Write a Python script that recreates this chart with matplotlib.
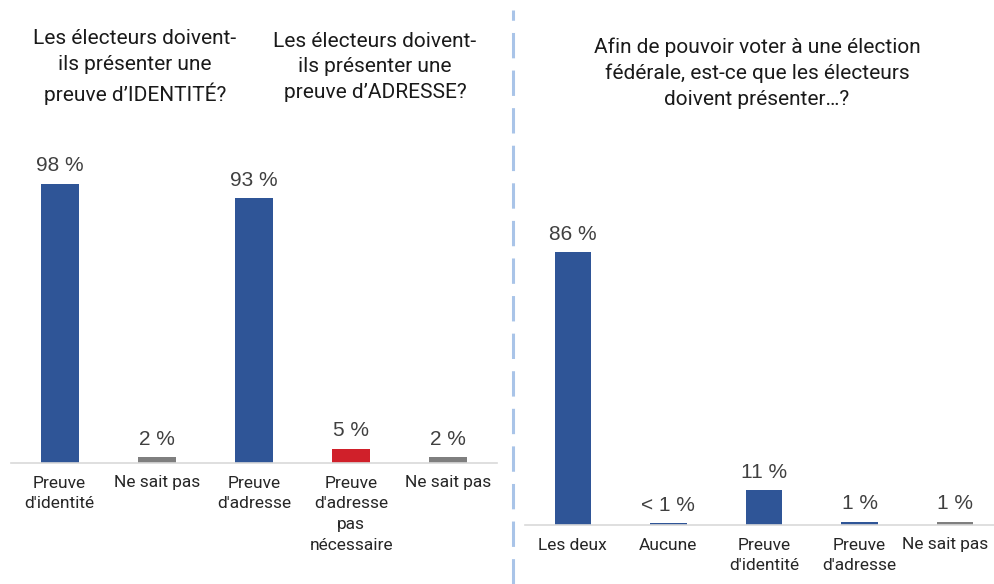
import matplotlib.pyplot as plt
from matplotlib.lines import Line2D
from matplotlib.transforms import ScaledTranslation

plt.rcParams['font.family'] = ['Roboto', 'DejaVu Sans']

# left panel: identity / address questions
left_cats = ["Preuve\nd'identité", "Ne sait pas", "Preuve\nd'adresse",
             "Preuve\nd'adresse\npas\nnécessaire", "Ne sait pas"]
left_vals = [98, 2, 93, 5, 2]
left_labels = ["98 %", "2 %", "93 %", "5 %", "2 %"]
left_colors = ['#2f5597', '#7f7f7f', '#2f5597', '#d0202a', '#7f7f7f']

# right panel: what must voters present
right_cats = ["Les deux", "Aucune", "Preuve\nd'identité", "Preuve\nd'adresse", "Ne sait pas"]
right_vals = [86, 0.6, 11, 1, 1]
right_labels = ["86 %", "< 1 %", "11 %", "1 %", "1 %"]
right_colors = ['#2f5597', '#2f5597', '#2f5597', '#2f5597', '#7f7f7f']

W, H = 995, 584
fig = plt.figure(figsize=(W / 100, H / 100), dpi=100)


def panel(rect, cats, vals, labels, colors, width):
    ax = fig.add_axes(rect)
    x = range(len(cats))
    bars = ax.bar(x, vals, width=width, color=colors)
    for b, lab in zip(bars, labels):
        ax.annotate(lab, (b.get_x() + b.get_width() / 2, b.get_height()),
                    xytext=(0, 6), textcoords='offset points',
                    ha='center', va='bottom', fontsize=15, color='#404040',
                    family=['Liberation Sans', 'DejaVu Sans'])
    ax.set_xlim(-0.5, len(cats) - 0.5)
    ax.set_ylim(0, 100)
    ax.set_xticks(list(x))
    ax.set_xticklabels(cats, fontsize=12.5, color='#262626', linespacing=1.5)
    ax.tick_params(axis='x', length=0, pad=9)
    ax.set_yticks([])
    for s in ['top', 'left', 'right']:
        ax.spines[s].set_visible(False)
    ax.spines['bottom'].set_color('#d9d9d9')
    ax.spines['bottom'].set_linewidth(1.2)
    ax.patch.set_alpha(0)
    return ax


panel([11 / W, 121 / H, 486 / W, 285 / H], left_cats, left_vals, left_labels, left_colors, 0.39)
axr = panel([525 / W, 59 / H, 478 / W, 317 / H], right_cats, right_vals, right_labels, right_colors, 0.38)

# last label runs past the figure edge, nudge it in a little
last = axr.get_xticklabels()[-1]
last.set_transform(last.get_transform() + ScaledTranslation(-10 / 100, 0, fig.dpi_scale_trans))

title_kw = dict(ha='center', va='center', fontsize=15, color='#1a1a1a', linespacing=1.45)
fig.text(135 / W, 1 - 67 / H, "Les électeurs doivent-\nils présenter une\npreuve d\u2019IDENTITÉ?", **title_kw)
fig.text(375 / W, 1 - 67 / H, "Les électeurs doivent-\nils présenter une\npreuve d\u2019ADRESSE?", **title_kw)
fig.text(757 / W, 1 - 73 / H, "Afin de pouvoir voter à une élection\nfédérale, est-ce que les électeurs\ndoivent présenter\u2026?", **title_kw)

sep = Line2D([513 / W, 513 / W], [0, 1 - 10 / H], transform=fig.transFigure,
             color='#a9c4e8', lw=2.2, dashes=(8.3, 4))
fig.add_artist(sep)

fig.savefig('out.png', dpi=100)
